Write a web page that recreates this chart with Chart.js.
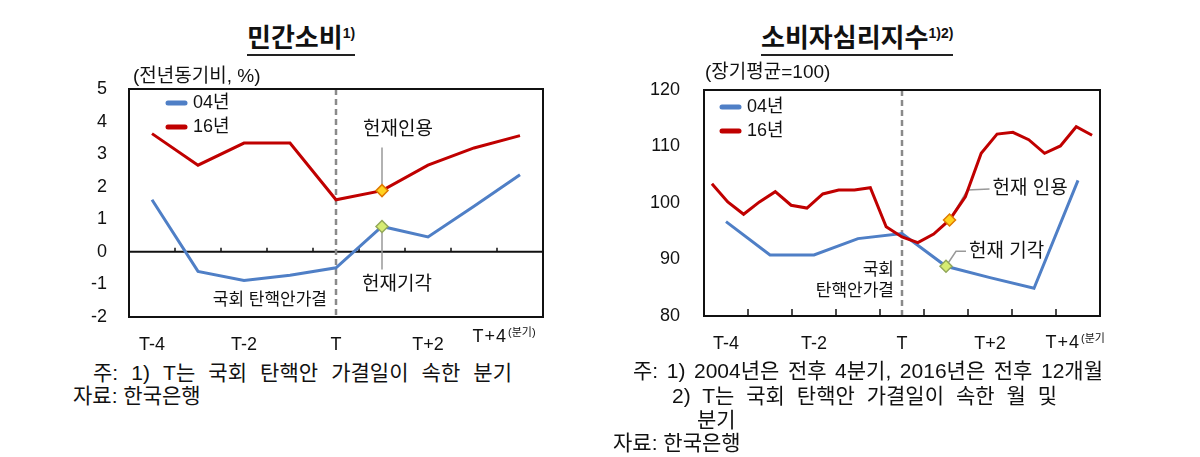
<!DOCTYPE html>
<html>
<head>
<meta charset="utf-8">
<script src="https://cdn.jsdelivr.net/npm/chart.js@4.4.0/dist/chart.umd.min.js"></script>
<style>
  body { margin: 0; background: #fff; width: 1200px; height: 457px; position: relative; overflow: hidden;
         font-family: "Liberation Sans", "Noto Sans CJK KR", sans-serif; color: #111; }
  .box { position: absolute; top: 0; width: 600px; height: 360px; }
  .title { position: absolute; top: 18px; font-size: 26px; font-weight: bold; line-height: 31px;
           border-bottom: 2px solid #222; white-space: nowrap; }
  .title sup { font-size: 14px; vertical-align: 9px; }
  .note { position: absolute; font-size: 21px; line-height: 22px; white-space: nowrap; }
  .just { text-align: justify; text-align-last: justify; white-space: normal; }
</style>
</head>
<body>

<div class="title" style="left:247px">민간소비<sup>1)</sup></div>
<div class="title" style="left:761px">소비자심리지수<sup>1)2)</sup></div>

<div class="box" style="left:0"><canvas id="c1"></canvas></div>
<div class="box" style="left:600px"><canvas id="c2"></canvas></div>

<div class="note just" style="left:93px; top:362px; width:419px">주: 1) T는 국회 탄핵안 가결일이 속한 분기</div>
<div class="note" style="left:73px; top:385px">자료: 한국은행</div>

<div class="note just" style="left:633px; top:360px; width:470px">주: 1) 2004년은 전후 4분기, 2016년은 전후 12개월</div>
<div class="note just" style="left:672px; top:385px; width:385px">2) T는 국회 탄핵안 가결일이 속한 월 및</div>
<div class="note" style="left:697px; top:409px">분기</div>
<div class="note" style="left:613px; top:432px">자료: 한국은행</div>

<script>
// 분기 / 월 범주
const quarters = ['T-4', 'T-3', 'T-2', 'T-1', 'T', 'T+1', 'T+2', 'T+3', 'T+4'];
const months = ['T-12', 'T-11', 'T-10', 'T-9', 'T-8', 'T-7', 'T-6', 'T-5', 'T-4', 'T-3', 'T-2', 'T-1', 'T',
                'T+1', 'T+2', 'T+3', 'T+4', 'T+5', 'T+6', 'T+7', 'T+8', 'T+9', 'T+10', 'T+11', 'T+12'];

// 민간소비 (전년동기비, %)
const cons04 = [1.6, -0.6, -0.88, -0.72, -0.49, 0.78, 0.46, 1.4, 2.37];
const cons16 = [3.63, 2.66, 3.34, 3.34, 1.6, 1.88, 2.66, 3.19, 3.57];
const consTicks = [-2, -1, 0, 1, 2, 3, 4, 5];

// 소비자심리지수 (장기평균=100)
const csi04 = [96.7, 90.8, 90.8, 93.7, 94.6, 88.8, 86.8, 84.9, 104.0];
const csi16 = [103.4, 100.2, 98.0, 100.2, 102.0, 99.6, 99.1, 101.6, 102.3, 102.3, 102.7, 95.8, 94.0,
               93.0, 94.5, 97.0, 101.1, 108.8, 112.2, 112.5, 111.2, 108.8, 110.1, 113.5, 112.0];
const csiTicks = [80, 90, 100, 110, 120];

const BLUE = '#4f7fc6';
const RED = '#c00000';
const FONT = '"Liberation Sans", "Noto Sans CJK KR", sans-serif';

function txt(ctx, s, x, y, size, align, spacing) {
  ctx.save();
  ctx.font = size + 'px ' + FONT;
  ctx.fillStyle = '#111';
  ctx.textAlign = align || 'left';
  ctx.textBaseline = 'middle';
  if (spacing) ctx.letterSpacing = spacing + 'px';
  ctx.fillText(s, x, y);
  ctx.restore();
}

function seg(ctx, pts, color, w, dash) {
  ctx.save();
  ctx.strokeStyle = color;
  ctx.lineWidth = w;
  if (dash) ctx.setLineDash(dash);
  ctx.beginPath();
  pts.forEach((p, i) => i ? ctx.lineTo(p[0], p[1]) : ctx.moveTo(p[0], p[1]));
  ctx.stroke();
  ctx.restore();
}

// 테두리, 0선, 눈금, T 점선, 범례, 주석
function decor(cfg) {
  return {
    id: 'decor',
    beforeDatasetsDraw(chart) {
      const ctx = chart.ctx, a = chart.chartArea, x = chart.scales.x, y = chart.scales.y;
      const base = cfg.zero ? y.getPixelForValue(0) : a.bottom;
      if (cfg.zero) seg(ctx, [[a.left, base], [a.right, base]], '#111', 2);
      for (let i = 1; i < quarters.length; i++) {
        const px = (x.getPixelForValue(i - 1) + x.getPixelForValue(i)) / 2;
        seg(ctx, [[px, base], [px, base - cfg.tick]], '#111', 1.5);
      }
      const tx = x.getPixelForValue(4);
      seg(ctx, [[tx, a.top], [tx, a.bottom]], '#8a8a8a', 2.5, [6, 4]);
      cfg.notes.forEach(n => {
        const m = chart.getDatasetMeta(n.ds).data[n.idx];
        seg(ctx, n.path.map(p => [m.x + p[0], m.y + p[1]]), '#999', 1.5);
      });
    },
    afterDraw(chart) {
      const ctx = chart.ctx, a = chart.chartArea, x = chart.scales.x;
      ctx.save();
      ctx.strokeStyle = '#111';
      ctx.lineWidth = 2;
      ctx.strokeRect(a.left, a.top, a.right - a.left, a.bottom - a.top);
      ctx.restore();
      txt(ctx, cfg.unit, cfg.unitX, cfg.unitY, 19);
      cfg.legend.forEach((l, i) => {
        const ly = cfg.legY + i * 24;
        ctx.save();
        ctx.strokeStyle = l.color; ctx.lineWidth = 5; ctx.lineCap = 'round';
        ctx.beginPath(); ctx.moveTo(cfg.legX, ly); ctx.lineTo(cfg.legX + 17, ly); ctx.stroke();
        ctx.restore();
        txt(ctx, l.label, cfg.legX + 25, ly, 18);
      });
      cfg.notes.forEach(n => {
        const m = chart.getDatasetMeta(n.ds).data[n.idx];
        txt(ctx, n.text, m.x + n.tx, m.y + n.ty, 19);
      });
      cfg.impeach.forEach((s, i) => txt(ctx, s, x.getPixelForValue(4) - cfg.impX, cfg.impY + i * 21, 17, 'right'));
      const lx = x.getPixelForValue(8) + cfg.lastDx;
      txt(ctx, quarters[8], lx, cfg.lastY, 18, 'right', 1);
      txt(ctx, cfg.lastSuffix, lx + 1, cfg.lastY - 4, 11);
    }
  };
}

function marker(idx, fill, border) {
  return {
    pointStyle: 'rectRot',
    pointRadius: c => c.dataIndex === idx ? 6 : 0,
    pointHoverRadius: c => c.dataIndex === idx ? 6 : 0,
    pointBackgroundColor: fill,
    pointBorderColor: border,
    pointBorderWidth: 1.5
  };
}

function yAxis(min, max, step, vals, width, pad) {
  return {
    min: min, max: max,
    afterFit: s => { s.width = width; },
    afterBuildTicks: s => { s.ticks = vals.map(v => ({ value: v })); },
    grid: { display: false }, border: { display: false },
    ticks: { stepSize: step, padding: pad, color: '#111', font: { size: 18, family: FONT } }
  };
}

function xAxis(height) {
  return {
    type: 'category', labels: quarters, offset: true,
    afterFit: s => { s.height = height; },
    grid: { display: false }, border: { display: false },
    ticks: {
      autoSkip: false, maxRotation: 0, padding: 9, color: '#111', font: { size: 18, family: FONT },
      callback: (v, i) => (i % 2 === 0 && i < 8) ? quarters[i] : ''
    }
  };
}

Chart.defaults.animation = false;
Chart.defaults.responsive = true;
Chart.defaults.maintainAspectRatio = false;

new Chart(document.getElementById('c1'), {
  type: 'line',
  data: {
    labels: quarters,
    datasets: [
      Object.assign({ label: '16년', data: cons16, borderColor: RED, borderWidth: 3, order: 1 },
                    marker(5, '#ffd21f', '#e07a00')),
      Object.assign({ label: '04년', data: cons04, borderColor: BLUE, borderWidth: 3, order: 2 },
                    marker(5, '#d6ec72', '#93a85a'))
    ]
  },
  options: {
    layout: { padding: { top: 89, right: 57, left: 0, bottom: 0 } },
    plugins: { legend: { display: false }, tooltip: { enabled: false } },
    scales: { x: xAxis(43), y: yAxis(-2, 5, 1, consTicks, 129, 14) }
  },
  plugins: [decor({
    zero: true, tick: 4,
    unit: '(전년동기비, %)', unitX: 133, unitY: 77,
    legend: [{ label: '04년', color: BLUE }, { label: '16년', color: RED }], legX: 168, legY: 103,
    notes: [
      { ds: 0, idx: 5, text: '헌재인용', tx: -19, ty: -61, path: [[0, -43], [0, -6]] },
      { ds: 1, idx: 5, text: '헌재기각', tx: -20, ty: 58, path: [[0, 6], [0, 43]] }
    ],
    impeach: ['국회 탄핵안가결'], impX: 9, impY: 300,
    lastDx: -13, lastY: 337, lastSuffix: '(분기)'
  })]
});

new Chart(document.getElementById('c2'), {
  type: 'line',
  data: {
    datasets: [
      Object.assign({ label: '16년', data: csi16, xAxisID: 'x2', borderColor: RED, borderWidth: 3, order: 1 },
                    marker(15, '#ffd21f', '#e07a00')),
      Object.assign({ label: '04년', data: csi04, xAxisID: 'x', borderColor: BLUE, borderWidth: 3, order: 2 },
                    marker(5, '#d6ec72', '#93a85a'))
    ]
  },
  options: {
    layout: { padding: { top: 90, right: 100, left: 0, bottom: 0 } },
    plugins: { legend: { display: false }, tooltip: { enabled: false } },
    scales: {
      x: xAxis(44),
      x2: { type: 'category', labels: months, offset: true, display: false },
      y: yAxis(80, 120, 10, csiTicks, 104, 16)
    }
  },
  plugins: [decor({
    zero: false, tick: 7,
    unit: '(장기평균=100)', unitX: 105, unitY: 73,
    legend: [{ label: '04년', color: BLUE }, { label: '16년', color: RED }], legX: 122, legY: 107,
    notes: [
      { ds: 0, idx: 15, text: '헌재 인용', tx: 43, ty: -31, path: [[2, -3], [18, -30], [40, -31]] },
      { ds: 1, idx: 5, text: '헌재 기각', tx: 23, ty: -15, path: [[2, -3], [10, -15], [20, -15]] }
    ],
    impeach: ['국회', '탄핵안가결'], impX: 8, impY: 270,
    lastDx: 2, lastY: 343, lastSuffix: '(분기'
  })]
});
</script>
</body>
</html>
